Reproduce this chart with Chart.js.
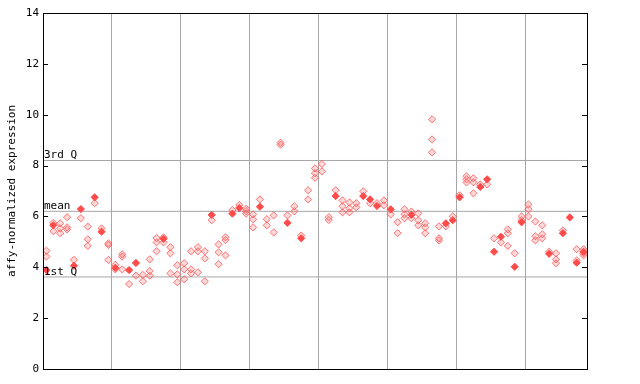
<!DOCTYPE html>
<html>
<head>
<meta charset="utf-8">
<script src="https://cdn.jsdelivr.net/npm/chart.js@4.4.1/dist/chart.umd.min.js"></script>
<style>
    html, body { margin: 0; padding: 0; background: #fff; }
    #wrap { width: 640px; height: 384px; }
</style>
</head>
<body>
<div id="wrap"><canvas id="exprChart" width="640" height="384"></canvas></div>
<script>
// values per sample (79 samples)
const probeA = [4.65, 5.75, 5.73, 5.97, 4.29, 5.93, 5.6, 6.52, 5.53, 4.94,
    4.1, 4.51, 3.34, 3.67, 3.7, 4.31, 5.15, 5.18, 4.79, 4.08,
    4.16, 4.63, 4.79, 4.63, 5.85, 4.9, 5.18, 6.25, 6.45, 6.3,
    6.08, 6.67, 5.89, 6.04, 8.9, 6.04, 6.4, 5.25, 7.03, 7.89,
    8.06, 5.97, 7.03, 6.63, 6.55, 6.52, 6.99, 6.52, 6.52, 6.63,
    6.08, 5.77, 6.28, 6.19, 6.12, 5.73, 9.82, 5.61, 5.61, 6.0,
    6.83, 7.58, 7.5, 7.26, 7.26, 5.14, 4.98, 5.49, 4.55, 6.0,
    6.47, 5.8, 5.65, 4.61, 4.55, 5.45, null, 4.71, 4.71];
const probeB = [4.42, 5.42, 5.53, 5.57, null, null, 5.1, null, null, 4.88,
    3.92, 4.42, null, null, 3.45, 3.85, 4.98, 4.98, 4.55, 3.72,
    3.92, 3.92, 4.63, 4.35, null, 4.59, 5.07, null, null, 6.21,
    5.89, null, 5.65, 5.37, 8.82, null, 6.2, null, 6.67, 7.7,
    7.77, 5.86, null, 6.4, 6.32, 6.36, null, null, null, 6.44,
    null, 5.34, 6.08, 5.93, 5.85, 5.57, 9.03, 5.14, null, null,
    null, 7.46, 7.34, null, null, null, null, 5.34, null, 5.85,
    6.28, 5.22, 5.3, null, 4.31, null, null, 4.27, 4.55];
const probeC = [null, null, 5.34, 5.49, null, null, 4.84, null, null, 4.29,
    null, 3.92, null, null, null, 3.67, 4.63, null, 3.76, 3.41,
    3.53, 3.76, 3.8, 3.45, null, 4.12, 4.47, null, null, 6.11,
    5.57, null, null, null, null, null, null, null, null, 7.52,
    null, null, null, 6.16, 6.16, null, null, null, null, null,
    null, null, 5.93, null, 5.65, 5.34, 8.52, 5.06, null, null,
    null, 7.34, 6.91, null, null, null, null, 4.84, null, null,
    6.0, 5.06, 5.14, null, 4.16, null, null, null, 4.47];
const probeMain = [3.89, 5.65, null, null, 4.06, 6.29, null, 6.75, 5.4, null,
    3.98, null, 3.89, 4.17, null, null, null, 5.12, null, null,
    null, null, null, null, 6.06, null, null, 6.11, 6.33, null,
    null, 6.38, null, null, null, 5.75, null, 5.14, null, null,
    null, null, 6.8, null, null, null, 6.8, 6.67, 6.41, null,
    6.28, null, null, 6.06, null, null, null, null, 5.73, 5.85,
    6.75, null, null, 7.16, 7.46, 4.61, 5.2, null, 4.02, 5.77,
    null, null, null, 4.53, null, 5.34, 5.96, 4.18, 4.61];

// reference lines
const quartiles = [
    { label: '3rd Q', value: 8.2 },
    { label: 'mean', value: 6.2 },
    { label: '1st Q', value: 3.62 }
];
const yTicks = [0, 2, 4, 6, 8, 10, 12, 14];
const groupBreaks = [9.5, 19.5, 29.5, 39.5, 49.5, 59.5, 69.5];

const RED = '#ff4a4a';
const MONO = '"DejaVu Sans Mono", "Liberation Mono", monospace';

function toPoints(arr) {
    const pts = [];
    arr.forEach((v, i) => {
        if (v !== null) pts.push({ x: i, y: v });
    });
    return pts;
}

function hollowSet(arr) {
    return {
        data: toPoints(arr),
        pointStyle: 'rectRot',
        pointRadius: 3.6,
        borderWidth: 1,
        borderColor: 'rgba(255, 74, 74, 0.75)',
        backgroundColor: 'rgba(255, 120, 120, 0.28)',
        order: 2
    };
}

const datasets = [
    hollowSet(probeA),
    hollowSet(probeB),
    hollowSet(probeC),
    {
        data: toPoints(probeMain),
        pointStyle: 'rectRot',
        pointRadius: 3.6,
        borderWidth: 1,
        borderColor: RED,
        backgroundColor: RED,
        order: 1
    }
];

quartiles.forEach(q => {
    datasets.push({
        data: [{ x: -0.5, y: q.value }, { x: 78.5, y: q.value }],
        showLine: true,
        pointRadius: 0,
        borderColor: '#a6a6a6',
        borderWidth: 1,
        order: 10
    });
});

// frame, inward ticks and quartile labels
const framePlugin = {
    id: 'frame',
    afterDraw(chart) {
        const ctx = chart.ctx;
        const a = chart.chartArea;
        const y = chart.scales.y;
        ctx.save();
        ctx.strokeStyle = '#000';
        ctx.lineWidth = 1;
        ctx.strokeRect(Math.round(a.left) + 0.5, Math.round(a.top) + 0.5,
            Math.round(a.right - a.left), Math.round(a.bottom - a.top));
        ctx.beginPath();
        yTicks.forEach(t => {
            const py = Math.round(y.getPixelForValue(t)) + 0.5;
            ctx.moveTo(a.left, py);
            ctx.lineTo(a.left + 5, py);
            ctx.moveTo(a.right - 5, py);
            ctx.lineTo(a.right, py);
        });
        ctx.stroke();

        ctx.fillStyle = '#000';
        ctx.font = '11px ' + MONO;
        ctx.textAlign = 'left';
        ctx.textBaseline = 'bottom';
        quartiles.forEach(q => {
            const py = Math.round(y.getPixelForValue(q.value));
            ctx.fillText(q.label, a.left + 1, py + 1);
        });
        ctx.restore();
    }
};

new Chart(document.getElementById('exprChart').getContext('2d'), {
    type: 'scatter',
    data: { datasets: datasets },
    options: {
        responsive: false,
        animation: false,
        events: [],
        layout: { padding: { left: 0, right: 53, top: 13, bottom: 0 } },
        plugins: {
            legend: { display: false },
            tooltip: { enabled: false }
        },
        scales: {
            x: {
                type: 'linear',
                min: -0.5,
                max: 78.5,
                afterBuildTicks(scale) {
                    scale.ticks = groupBreaks.map(v => ({ value: v }));
                },
                afterFit(scale) { scale.height = 15; },
                ticks: { display: false },
                grid: { color: '#a6a6a6', drawTicks: false },
                border: { display: false }
            },
            y: {
                min: 0,
                max: 14,
                afterBuildTicks(scale) {
                    scale.ticks = yTicks.map(v => ({ value: v }));
                },
                afterFit(scale) { scale.width = 43; },
                ticks: {
                    color: '#000',
                    padding: 4,
                    font: { family: MONO, size: 11 }
                },
                grid: { display: false, drawTicks: false },
                border: { display: false },
                title: {
                    display: true,
                    text: 'affy-normalized expression',
                    color: '#000',
                    padding: { top: 6, bottom: 0 },
                    font: { family: MONO, size: 11 }
                }
            }
        }
    },
    plugins: [framePlugin]
});
</script>
</body>
</html>
